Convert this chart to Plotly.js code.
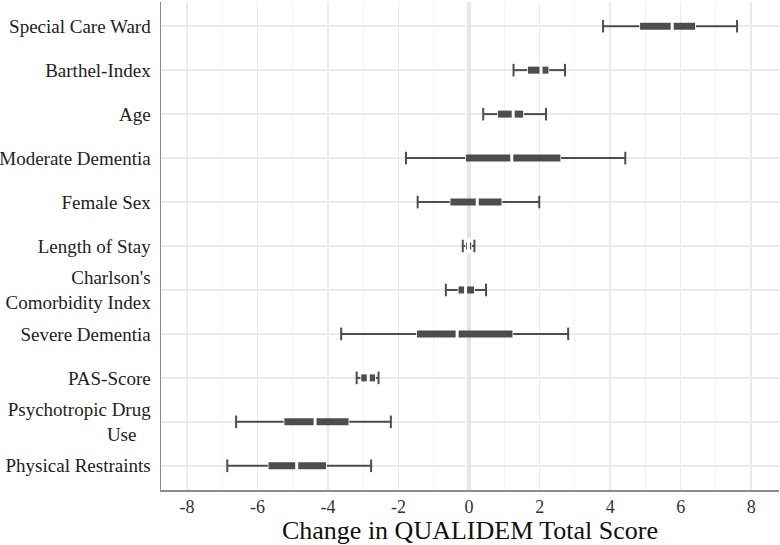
<!DOCTYPE html>
<html>
<head>
<meta charset="utf-8">
<script src="https://cdn.plot.ly/plotly-3.0.1.min.js"></script>
<style>html,body{margin:0;padding:0;background:#fff;}#chart{width:780px;height:545px;}</style>
</head>
<body>
<div id="chart"></div>
<script>
// Rows listed top to bottom
var labels = ["Special Care Ward", "Barthel-Index", "Age", "Moderate Dementia", "Female Sex",
  "Length of Stay", "Charlson's<br>Comorbidity Index", "Severe Dementia", "PAS-Score",
  "Psychotropic Drug<br>Use\u00A0\u00A0\u00A0", "Physical Restraints"];
// outer interval (whiskers)
var lower = [3.80, 1.26, 0.40, -1.79, -1.46, -0.18, -0.66, -3.63, -3.19, -6.61, -6.86];
var upper = [7.60, 2.72, 2.18, 4.43, 1.99, 0.15, 0.48, 2.81, -2.57, -2.22, -2.78];
// inner interval (thick bar)
var innerLower = [4.85, 1.67, 0.82, -0.09, -0.53, -0.09, -0.30, -1.48, -3.06, -5.24, -5.69];
var innerUpper = [6.41, 2.25, 1.53, 2.59, 0.92, 0.06, 0.14, 1.23, -2.67, -3.42, -4.06];
// point estimate
var estimate = [5.76, 2.04, 1.25, 1.21, 0.23, -0.02, -0.10, -0.34, -2.86, -4.37, -4.89];
// x axis ticks
var xTickVals = [-8, -6, -4, -2, 0, 2, 4, 6, 8];
var xTickText = ["-8", "-6", "-4", "-2", "0", "2", "4", "6", "8"];

var n = labels.length;
var yIdx = labels.map(function(_, i){ return n - 1 - i; });
var dark = '#4d4d4d';
var serif = 'Liberation Serif, Times New Roman, serif';

var wx = [], wy = [], tx = [], ty = [], cx = [], cy = [], ex = [], ey = [], gx = [], gy = [];
for (var i = 0; i < n; i++) {
  wx.push(lower[i], innerLower[i], null, innerUpper[i], upper[i], null);
  wy.push(yIdx[i], yIdx[i], null, yIdx[i], yIdx[i], null);
  tx.push(innerLower[i], innerUpper[i], null);
  ty.push(yIdx[i], yIdx[i], null);
  cx.push(lower[i], upper[i]);
  cy.push(yIdx[i], yIdx[i]);
  ex.push(estimate[i]);
  ey.push(yIdx[i]);
  gx.push(innerLower[i], innerUpper[i]);
  gy.push(yIdx[i], yIdx[i]);
}

var traces = [
  {x: wx, y: wy, mode: 'lines', line: {color: dark, width: 2}, hoverinfo: 'skip', showlegend: false},
  {x: gx, y: gy, mode: 'markers', marker: {symbol: 'line-ns', size: 11, color: '#fff', line: {color: '#fff', width: 1.5}}, hoverinfo: 'skip', showlegend: false},
  {x: tx, y: ty, mode: 'lines', line: {color: dark, width: 7}, hoverinfo: 'skip', showlegend: false},
  {x: ex, y: ey, mode: 'markers', marker: {symbol: 'line-ns', size: 11, color: '#fff', line: {color: '#fff', width: 3}}, hoverinfo: 'skip', showlegend: false},
  {x: cx, y: cy, mode: 'markers', marker: {symbol: 'line-ns', size: 9, color: dark, line: {color: dark, width: 2}}, hoverinfo: 'skip', showlegend: false}
];

var layout = {
  width: 780, height: 545,
  margin: {l: 161, r: 1, t: 2, b: 55},
  paper_bgcolor: '#fff', plot_bgcolor: '#fff',
  font: {family: serif, color: '#222'},
  xaxis: {
    range: [-8.74, 8.79], tickmode: 'array', tickvals: xTickVals, ticktext: xTickText,
    showgrid: true, gridcolor: '#ebebeb', gridwidth: 1.6,
    minor: {showgrid: true, tickmode: 'linear', tick0: 1, dtick: 2, gridcolor: '#f2f2f2', gridwidth: 1},
    zeroline: true, zerolinecolor: '#e6e6e6', zerolinewidth: 4,
    showline: true, linecolor: '#8c8c8c', linewidth: 1.5, ticks: '',
    tickfont: {family: serif, size: 18, color: '#333'},
    title: {text: 'Change in QUALIDEM Total Score', font: {family: serif, size: 26, color: '#111'}, standoff: 0}
  },
  yaxis: {
    range: [-0.55, n - 0.45], tickmode: 'array', tickvals: yIdx, ticktext: labels,
    showgrid: true, gridcolor: '#ebebeb', gridwidth: 1.6, zeroline: false,
    showline: true, linecolor: '#8c8c8c', linewidth: 1.5, ticks: '',
    ticklabelstandoff: 5,
    tickfont: {family: serif, size: 19, color: '#222'}
  }
};

Plotly.newPlot('chart', traces, layout, {displayModeBar: false, staticPlot: true});
</script>
</body>
</html>
